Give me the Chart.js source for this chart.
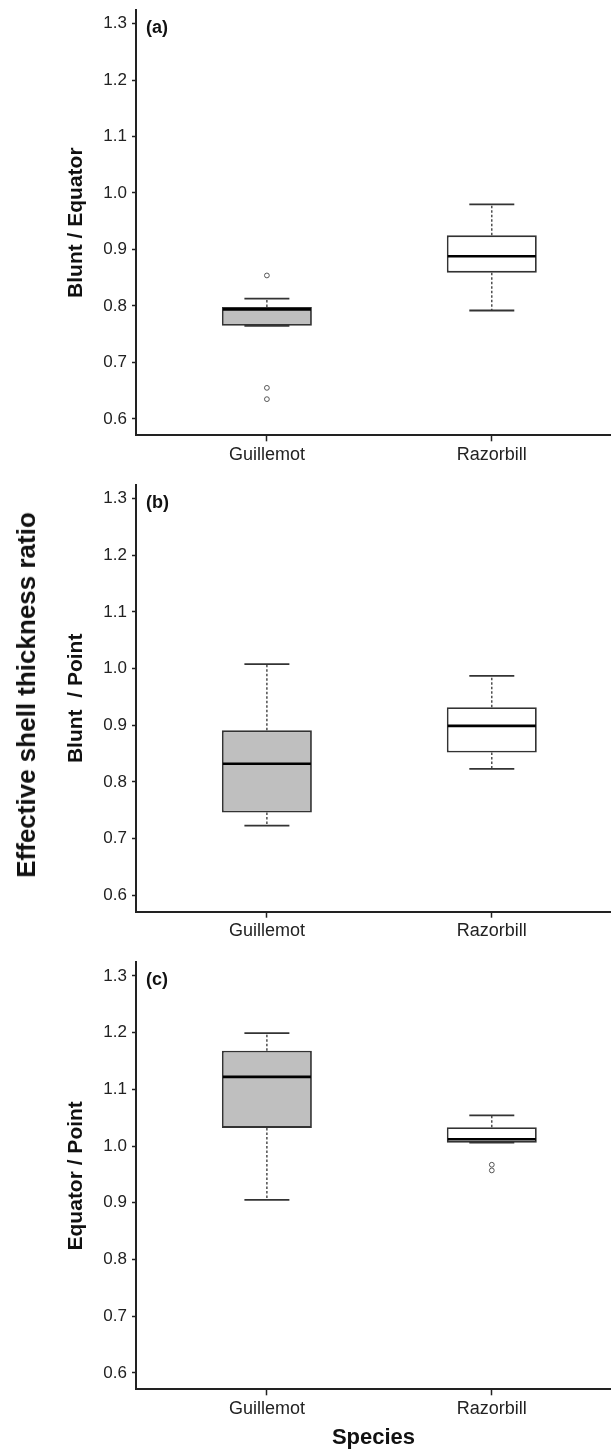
<!DOCTYPE html>
<html><head><meta charset="utf-8">
<script src="https://cdn.jsdelivr.net/npm/chart.js@4.4.1/dist/chart.umd.min.js"></script>
<style>
html,body{margin:0;padding:0;background:#fff;width:611px;height:1452px;overflow:hidden;position:relative;font-family:'Liberation Sans',Arial,sans-serif;}
canvas{position:absolute;left:0;}
#bigTitle{position:absolute;left:26px;top:695px;transform:translate(-50%,-50%) rotate(-90deg);white-space:nowrap;font-weight:bold;font-size:26px;color:#111;line-height:1;}
</style></head><body>
<canvas id="ca" width="611" height="475" style="top:0px;width:611px;height:475px"></canvas>
<canvas id="cb" width="611" height="475" style="top:475px;width:611px;height:475px"></canvas>
<canvas id="cc" width="611" height="502" style="top:950px;width:611px;height:502px"></canvas>
<div id="bigTitle">Effective shell thickness ratio</div>
<script>
// ---- data ----
const categories = ['Guillemot', 'Razorbill'];
const yTickValues = [0.6, 0.7, 0.8, 0.9, 1.0, 1.1, 1.2, 1.3];
const panelLetters = ['(a)', '(b)', '(c)'];
const yTitles = ['Blunt / Equator', 'Blunt  / Point', 'Equator / Point'];
const xTitle = 'Species';

// (a) Blunt / Equator
const aMin = [0.765, 0.792];
const aQ1 = [0.765, 0.859];
const aMedian = [0.794, 0.888];
const aQ3 = [0.798, 0.925];
const aMax = [0.813, 0.980];
const aOutliers = [[0.854, 0.655, 0.635], []];

// (b) Blunt / Point
const bMin = [0.723, 0.823];
const bQ1 = [0.746, 0.852];
const bMedian = [0.832, 0.899];
const bQ3 = [0.891, 0.932];
const bMax = [1.008, 0.987];
const bOutliers = [[], []];

// (c) Equator / Point
const cMin = [0.905, 1.006];
const cQ1 = [1.032, 1.006];
const cMedian = [1.122, 1.012];
const cQ3 = [1.168, 1.033];
const cMax = [1.199, 1.054];
const cOutliers = [[], [0.967, 0.957]];

// ---- axis ranges / styling ----
const Y_MIN = 0.571, Y_MAX = 1.324;
const X_MIN = 0.418, X_MAX = 2.53;
const BOX_HALF = 0.2, CAP_HALF = 0.1;
const FAMILY = "'Liberation Sans', Arial, sans-serif";
const boxFills = ['#bfbfbf', '#ffffff'];

const boxPlugin = {
  id: 'boxLines',
  afterDatasetsDraw(chart, args, opts) {
    const {ctx, chartArea, scales: {x, y}} = chart;
    const s = opts.stats;
    const line = (x1, y1, x2, y2) => { ctx.beginPath(); ctx.moveTo(x1, y1); ctx.lineTo(x2, y2); ctx.stroke(); };
    ctx.save();
    for (let i = 0; i < categories.length; i++) {
      const v = i + 1;
      const cx = x.getPixelForValue(v);
      const capL = x.getPixelForValue(v - CAP_HALF), capR = x.getPixelForValue(v + CAP_HALF);
      const bL = x.getPixelForValue(v - BOX_HALF), bR = x.getPixelForValue(v + BOX_HALF);
      const yMin = y.getPixelForValue(s.min[i]), yQ1 = y.getPixelForValue(s.q1[i]);
      const yMed = y.getPixelForValue(s.med[i]), yQ3 = y.getPixelForValue(s.q3[i]);
      const yMax = y.getPixelForValue(s.max[i]);
      ctx.strokeStyle = '#333';
      ctx.lineWidth = 1.3;
      ctx.setLineDash([2.5, 2]);
      if (s.max[i] > s.q3[i]) line(cx, yQ3, cx, yMax);
      if (s.min[i] < s.q1[i]) line(cx, yQ1, cx, yMin);
      ctx.setLineDash([]);
      ctx.lineWidth = 1.8;
      line(capL, yMax, capR, yMax);
      line(capL, yMin, capR, yMin);
      ctx.strokeStyle = '#000';
      ctx.lineWidth = 2.6;
      line(bL + 1, yMed, bR - 1, yMed);
    }
    ctx.font = 'bold 18px ' + FAMILY;
    ctx.fillStyle = '#111';
    ctx.textBaseline = 'middle';
    ctx.textAlign = 'left';
    ctx.fillText(opts.letter, chartArea.left + 10, chartArea.top + 18);
    ctx.restore();
  }
};

function zeroPad(sc) { sc.paddingLeft = 0; sc.paddingRight = 0; sc.paddingTop = 0; sc.paddingBottom = 0; }

function makePanel(id, k, mn, q1, med, q3, mx, outs, padTop, xAxisHeight, showXTitle) {
  const boxData = categories.map((c, i) => ({x: i + 1, y: [q1[i], q3[i]]}));
  const outData = [];
  outs.forEach((arr, i) => arr.forEach(v => outData.push({x: i + 1, y: v})));
  return new Chart(document.getElementById(id), {
    type: 'bar',
    data: {
      datasets: [
        {
          type: 'bar', data: boxData,
          backgroundColor: boxFills, borderColor: '#333', borderWidth: 1.8,
          borderSkipped: false, categoryPercentage: 1, barPercentage: BOX_HALF * 2,
          order: 2
        },
        {
          type: 'scatter', data: outData, showLine: false,
          pointRadius: 2.4, pointBackgroundColor: '#fff', pointBorderColor: '#555',
          pointBorderWidth: 1, order: 1
        }
      ]
    },
    options: {
      responsive: false, animation: false, devicePixelRatio: 1, events: [],
      layout: {autoPadding: false, padding: {top: padTop, left: 0, right: 0, bottom: 0}},
      plugins: {
        legend: {display: false}, tooltip: {enabled: false},
        boxLines: {stats: {min: mn, q1: q1, med: med, q3: q3, max: mx}, letter: panelLetters[k]}
      },
      scales: {
        x: {
          type: 'linear', min: X_MIN, max: X_MAX, offset: false,
          afterBuildTicks: sc => { sc.ticks = categories.map((c, i) => ({value: i + 1})); },
          afterFit: sc => { sc.height = xAxisHeight; zeroPad(sc); },
          ticks: {callback: v => categories[Math.round(v) - 1], font: {family: FAMILY, size: 18}, color: '#222', padding: 3, maxRotation: 0, autoSkip: false},
          grid: {display: true, offset: false, drawOnChartArea: false, drawTicks: true, tickLength: 6, tickWidth: 1.5, tickColor: '#222'},
          border: {display: true, color: '#222', width: 2},
          title: {display: showXTitle, text: xTitle, font: {family: FAMILY, size: 22, weight: 'bold'}, color: '#111', padding: {top: 0, bottom: 1}}
        },
        y: {
          type: 'linear', min: Y_MIN, max: Y_MAX,
          afterBuildTicks: sc => { sc.ticks = yTickValues.map(v => ({value: v})); },
          afterFit: sc => { sc.width = 136; zeroPad(sc); },
          ticks: {callback: v => Number(v).toFixed(1), font: {family: FAMILY, size: 17}, color: '#222', padding: 5},
          grid: {display: true, drawOnChartArea: false, drawTicks: true, tickLength: 4, tickWidth: 1.5, tickColor: '#222'},
          border: {display: true, color: '#222', width: 2},
          title: {display: true, text: yTitles[k], font: {family: FAMILY, size: 21, weight: 'bold'}, color: '#111', padding: {top: 64, bottom: 0}}
        }
      }
    },
    plugins: [boxPlugin]
  });
}

makePanel('ca', 0, aMin, aQ1, aMedian, aQ3, aMax, aOutliers, 10, 39.7, false);
makePanel('cb', 1, bMin, bQ1, bMedian, bQ3, bMax, bOutliers, 10, 38.3, false);
makePanel('cc', 2, cMin, cQ1, cMedian, cQ3, cMax, cOutliers, 12.3, 62.7, true);
</script>
</body></html>
